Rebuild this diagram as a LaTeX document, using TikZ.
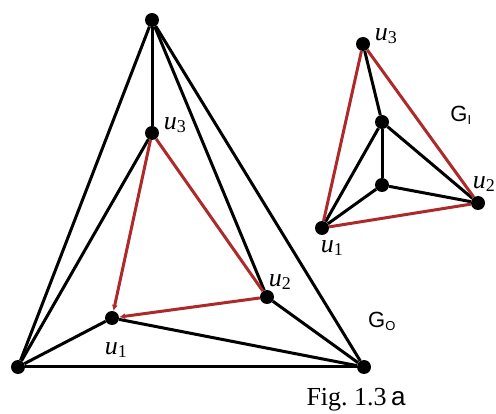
\documentclass[tikz,border=0pt]{standalone}
\usepackage{fontspec}
\setmainfont{Liberation Serif}
\setsansfont{Liberation Sans}
\usetikzlibrary{arrows.meta}
\definecolor{edgered}{RGB}{172,42,42}
\newcommand{\uname}[1]{\textit{u}\textsubscript{\fontsize{18}{18}\selectfont #1}}

\begin{document}
\begin{tikzpicture}[x=1pt, y=-1pt,
          vertex/.style={circle,fill=black,inner sep=0pt,minimum size=14pt},
          edge/.style={line width=3pt},
          redge/.style={line width=3pt,edgered},
          lab/.style={font=\fontsize{26}{28}\selectfont},
          gname/.style={font=\sffamily\fontsize{22}{24}\selectfont}]
        \useasboundingbox (0,0) rectangle (496,414);

        % outer graph
        \node[vertex] (t) at (152,20) {};
        \node[vertex] (a3) at (152,133) {};
        \node[vertex] (a2) at (267,297) {};
        \node[vertex] (a1) at (112,318) {};
        \node[vertex] (bl) at (18,367) {};
        \node[vertex] (br) at (364,367) {};

        \draw[edge] (t) -- (bl); \draw[edge] (t) -- (a3);
        \draw[edge] (t) -- (a2); \draw[edge] (t) -- (br);
        \draw[edge] (a3) -- (bl); \draw[edge] (a1) -- (bl);
        \draw[edge] (a1) -- (br); \draw[edge] (a2) -- (br);
        \draw[edge] (bl) -- (br);
        \draw[redge] (a3) -- (a2);
        \draw[redge,-{Latex[length=6pt,width=6pt]}] (a3) -- (a1);
        \draw[redge,-{Latex[length=6pt,width=6pt]}] (a2) -- (a1);

        \node[lab] at (175,125) {\uname{3}};
        \node[lab] at (280,282) {\uname{2}};
        \node[lab] at (116,350) {\uname{1}};
        \node[gname] at (382,321) {G\textsubscript{\fontsize{13}{14}\selectfont O}};

        % inner graph
        \node[vertex] (b3) at (363,44) {};
        \node[vertex] (c1) at (382,122) {};
        \node[vertex] (c2) at (382,185) {};
        \node[vertex] (b2) at (478,203) {};
        \node[vertex] (b1) at (322,228) {};

        \draw[edge] (b3) -- (c1); \draw[edge] (c1) -- (c2);
        \draw[edge] (c1) -- (b1); \draw[edge] (c1) -- (b2);
        \draw[edge] (c2) -- (b1); \draw[edge] (c2) -- (b2);
        \draw[redge] (b3) -- (b1); \draw[redge] (b3) -- (b2);
        \draw[redge] (b1) -- (b2);

        \node[lab] at (386,36) {\uname{3}};
        \node[lab] at (484,184) {\uname{2}};
        \node[lab] at (332,248) {\uname{1}};
        \node[gname] at (461,115) {G\textsubscript{\fontsize{13}{14}\selectfont I}};

        \node[font=\fontsize{26}{28}\selectfont] (fig) at (356,400) {Fig.~1.3\,\textsf{a}};
      \end{tikzpicture}
\end{document}
